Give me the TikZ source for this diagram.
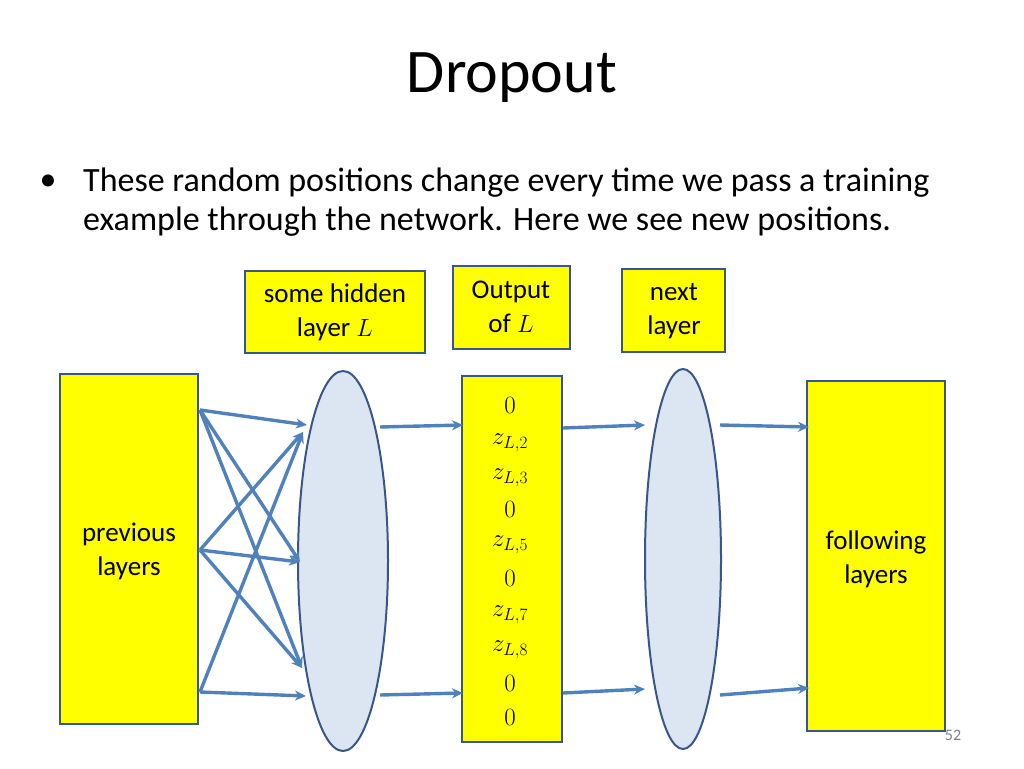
\documentclass[tikz,border=0pt]{standalone}
\usepackage{fontspec}
\setmainfont{Carlito}
\usetikzlibrary{arrows.meta}
\begin{document}
\begin{tikzpicture}[x=1pt,y=-1pt,
  box/.style={draw=edge,fill=yel,line width=1.8pt,inner sep=0pt},
  ell/.style={draw=edge,fill=ellf,line width=2pt},
  arr/.style={draw=arrc,line width=3.4pt,-{Stealth[length=11pt,width=10pt]}},
  lbl/.style={font=\fontsize{27}{34}\selectfont,align=center},
  val/.style={font=\fontsize{27}{32}\selectfont}]
\definecolor{yel}{RGB}{255,255,0}
\definecolor{edge}{RGB}{56,86,140}
\definecolor{ellf}{RGB}{220,230,242}
\definecolor{arrc}{RGB}{79,129,189}
\useasboundingbox (0,0) rectangle (1024,768);
\node (title) at (512,78) {\fontsize{62}{70}\selectfont Dropout};
\node (bul) at (48,183) {\fontsize{34}{40}\selectfont •};
\node[anchor=west,align=left,font=\fontsize{34}{39}\selectfont,inner sep=0pt] (txt) at (83,202)
 {These random positions change every time we pass a training\\example through the network. Here we see new positions.};
\draw[box] (245,271) rectangle (425,353);
\node[lbl] (hid) at (335,312) {some hidden\\layer $L$};
\draw[box] (453,266) rectangle (570,349);
\node[lbl] (out) at (511,307) {Output\\of $L$};
\draw[box] (622,269) rectangle (725,352);
\node[lbl] (nxt) at (674,311) {next\\layer};
\draw[box] (60,374) rectangle (198,724);
\node[lbl] (prev) at (129,551) {previous\\layers};
\draw[box] (807,381) rectangle (945,731);
\node[lbl] (foll) at (876,559) {following\\layers};
\draw[box] (462,376) rectangle (562,742);
\draw[ell] (343,561) ellipse [x radius=45, y radius=190];
\draw[ell] (683,559) ellipse [x radius=38, y radius=190];
\foreach \v/\y [count=\i] in {0/405,z_{L,2}/443,z_{L,3}/478,0/509,z_{L,5}/545,0/578,z_{L,7}/615,z_{L,8}/650,0/683,0/717}
  \node[val] (v\i) at (510,\y) {$\v$};
\coordinate (p1) at (200,410); \coordinate (p2) at (200,550); \coordinate (p3) at (200,692);
\coordinate (h1) at (307,425); \coordinate (h1b) at (303,432); \coordinate (h2) at (300,562);
\coordinate (h3) at (302,668); \coordinate (h4) at (306,696);
\draw[arr] (p1) -- (h1); \draw[arr] (p1) -- (h2); \draw[arr] (p1) -- (h3);
\draw[arr] (p2) -- (h1b); \draw[arr] (p2) -- (h2); \draw[arr] (p2) -- (h3);
\draw[arr] (p3) -- (h1b); \draw[arr] (p3) -- (h4);
\coordinate (a1) at (380,427); \coordinate (a2) at (463,425);
\coordinate (a3) at (380,695); \coordinate (a4) at (463,693);
\coordinate (b1) at (563,428); \coordinate (b2) at (645,425);
\coordinate (b3) at (563,693); \coordinate (b4) at (645,689);
\coordinate (c1) at (720,425); \coordinate (c2) at (809,427);
\coordinate (c3) at (720,695); \coordinate (c4) at (809,688);
\draw[arr] (a1) -- (a2); \draw[arr] (a3) -- (a4);
\draw[arr] (b1) -- (b2); \draw[arr] (b3) -- (b4);
\draw[arr] (c1) -- (c2); \draw[arr] (c3) -- (c4);
\node[text=gray,font=\fontsize{16}{18}\selectfont] (pg) at (953,735) {52};
\end{tikzpicture}
\end{document}
